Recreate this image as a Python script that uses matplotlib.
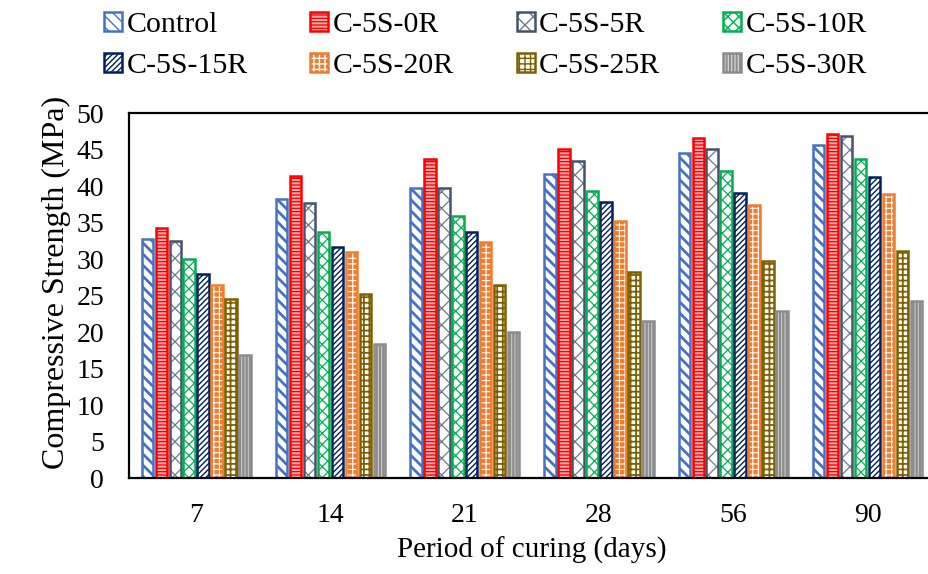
import numpy as np
import matplotlib
matplotlib.use("Agg")
import matplotlib.pyplot as plt

plt.rcParams["font.family"] = ["Liberation Serif", "DejaVu Serif"]

# curing periods and compressive strength (MPa) per mix
periods = ["7", "14", "21", "28", "56", "90"]
mixes = ["Control", "C-5S-0R", "C-5S-5R", "C-5S-10R",
         "C-5S-15R", "C-5S-20R", "C-5S-25R", "C-5S-30R"]

control = [32.8, 38.3, 39.8, 41.7, 44.6, 45.6]
c5s_0r = [34.3, 41.4, 43.7, 45.1, 46.6, 47.2]
c5s_5r = [32.5, 37.7, 39.7, 43.5, 45.1, 46.9]
c5s_10r = [30.0, 33.7, 35.9, 39.3, 42.1, 43.7]
c5s_15r = [28.0, 31.7, 33.7, 37.8, 39.1, 41.2]
c5s_20r = [26.4, 31.0, 32.4, 35.2, 37.4, 38.9]
c5s_25r = [24.5, 25.2, 26.4, 28.3, 29.8, 31.1]
c5s_30r = [16.9, 18.4, 20.0, 21.5, 22.9, 24.2]

series = [control, c5s_0r, c5s_5r, c5s_10r, c5s_15r, c5s_20r, c5s_25r, c5s_30r]

# (edge colour, face colour, hatch colour, hatch, hatch width)
styles = [
    ("#4472C4", "white", "#4472C4", "\\\\\\", 2.0),
    ("#FF0000", "#FFB3B3", "#FF0000", "-----", 1.0),
    ("#44546A", "white", "#6B7A8F", "xx", 0.9),
    ("#00B050", "white", "#00B050", "xxx", 0.9),
    ("#002060", "white", "#002060", "//////", 1.0),
    ("#ED7D31", "#ED7D31", "white", "+++", 0.8),
    ("#7F6000", "white", "#7F6000", "+++", 1.3),
    ("#8C8C8C", "#8C8C8C", "#D0D0D0", "|||||", 0.7),
]

fig = plt.figure(figsize=(9.29, 5.74), dpi=100)
ax = fig.add_axes([0.139, 0.167, 0.867, 0.636])

x = np.arange(len(periods))
slot = 0.104
width = 0.086
handles = []
for i, (vals, (ec, fc, hc, hatch, hw)) in enumerate(zip(series, styles)):
    pos = x + (i - 3.5) * slot
    fill = ax.bar(pos, vals, width, color=fc, edgecolor=hc, hatch=hatch, linewidth=0)
    for b in fill:
        b.set_hatch_linewidth(hw)
    edge = ax.bar(pos, vals, width, fill=False, edgecolor=ec, linewidth=1.8)
    handles.append((fill[0], edge[0]))

ax.set_xlim(-0.5, 5.5)
ax.set_ylim(0, 50)
ax.set_yticks(np.arange(0, 51, 5))
ax.set_xticks(x)
ax.set_xticklabels(periods)
ax.tick_params(length=0, labelsize=20, pad=18)
for s in ["left", "bottom", "top"]:
    ax.spines[s].set_linewidth(1.6)
ax.spines["right"].set_visible(False)

ax.set_ylabel("Compressive Strength (MPa)", fontsize=23)
ax.yaxis.set_label_coords(-0.072, 0.537)
ax.set_xlabel("Period of curing (days)", fontsize=21, labelpad=6)

# legend fills column by column, so reorder to read row by row
order = [0, 4, 1, 5, 2, 6, 3, 7]
fig.legend([handles[k] for k in order], [mixes[k] for k in order],
           ncol=4, loc="center left", bbox_to_anchor=(0.112, 0.921),
           frameon=False, fontsize=21.5, handlelength=0.6, handleheight=0.6,
           handletextpad=0.15, columnspacing=2.1, labelspacing=0.5,
           borderpad=0, borderaxespad=0)

fig.savefig("out.png", dpi=100)
